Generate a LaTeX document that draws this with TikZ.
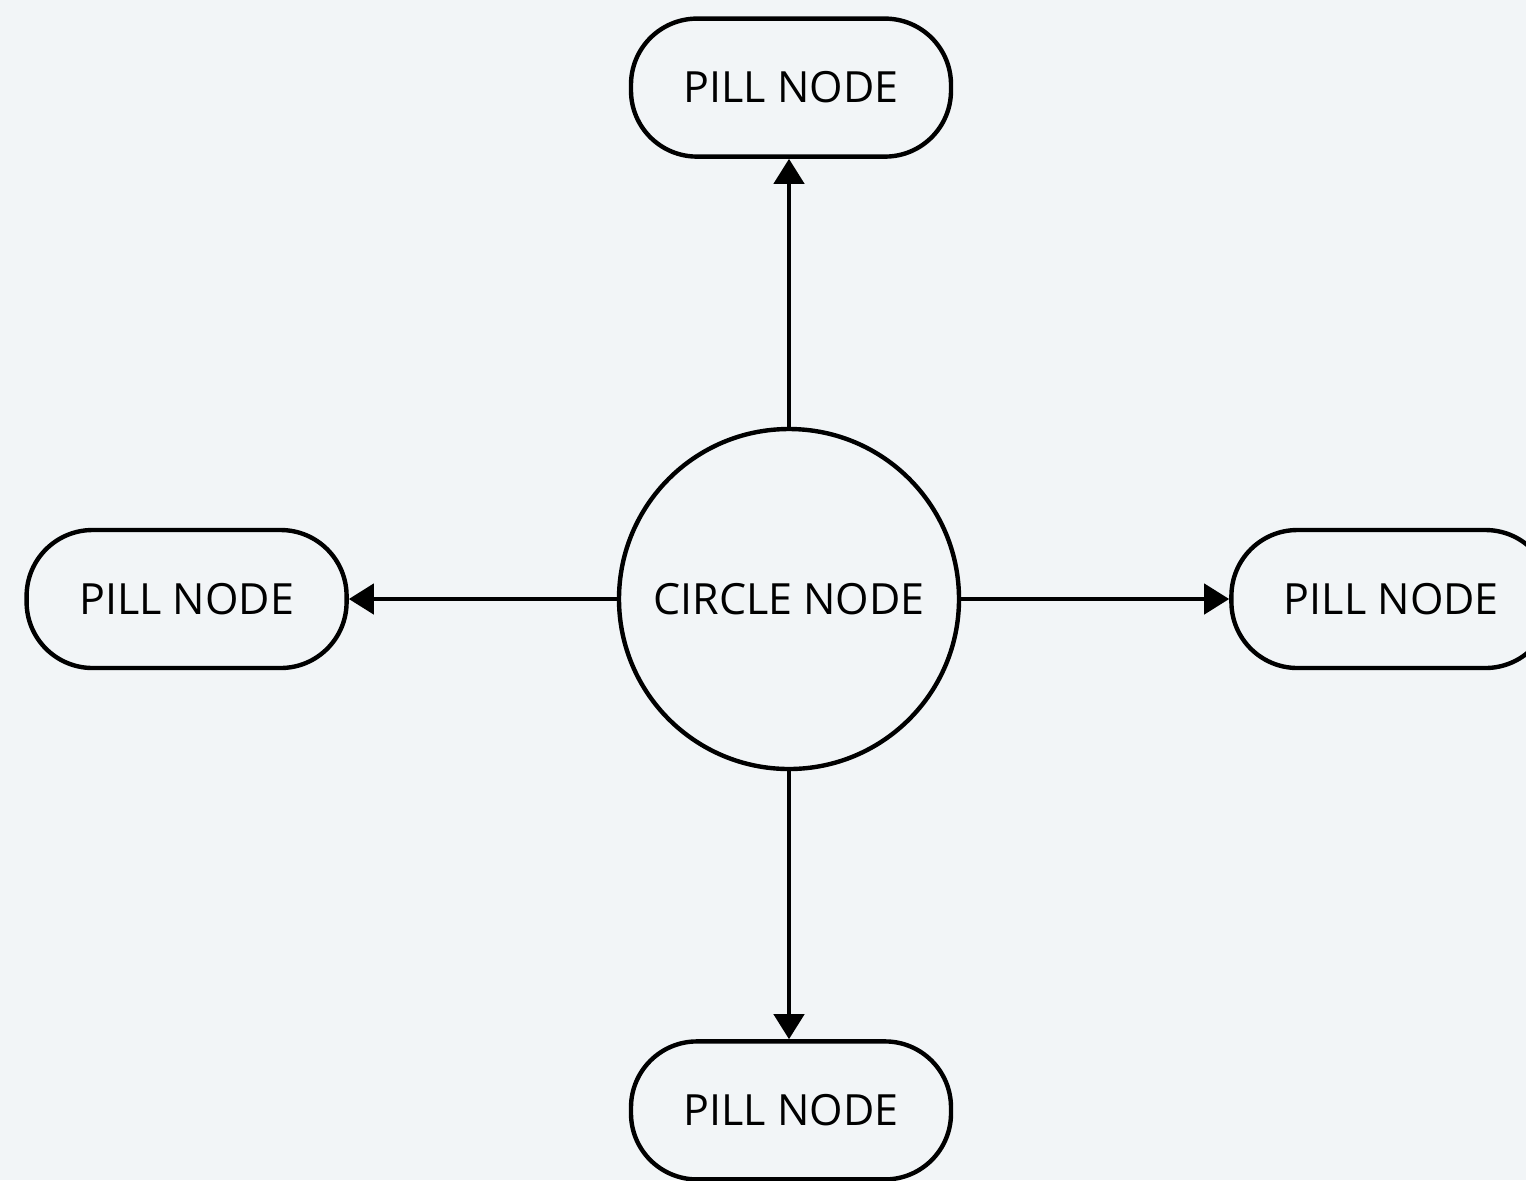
\documentclass[tikz,border=0pt]{standalone}
\usepackage{fontspec}
\setmainfont{Open Sans}
\usepackage{xcolor}
\usetikzlibrary{positioning,arrows.meta}

\definecolor{bgcol}{HTML}{F2F5F7}

\begin{document}
\begin{tikzpicture}[x=0.5pt, y=-0.5pt, font=\fontsize{21.5}{26}\selectfont,
  node distance=134pt,
  hub/.style={draw, circle, line width=2.2pt, minimum size=170pt, inner sep=0pt},
  pill/.style={draw, rounded corners=33pt, line width=2.2pt, minimum width=160pt,
               minimum height=69pt, inner sep=0pt},
  arr/.style={-{Triangle[length=12.5pt, width=15pt]}, line width=2.2pt}]
\fill[bgcol] (0,0) rectangle (1526,1180);
\clip (0,0) rectangle (1526,1180);
\node[hub] (hub) at (789,599) {CIRCLE NODE};
\node[pill, above=of hub, xshift=1pt] (top) {PILL NODE};
\node[pill, below=of hub, xshift=1pt] (bottom) {PILL NODE};
\node[pill, left=of hub] (left) {PILL NODE};
\node[pill, right=of hub] (right) {PILL NODE};
\draw[arr] (hub) -- (hub.north |- top.south);
\draw[arr] (hub) -- (hub.south |- bottom.north);
\draw[arr] (hub) -- (left);
\draw[arr] (hub) -- (right);
\end{tikzpicture}
\end{document}
